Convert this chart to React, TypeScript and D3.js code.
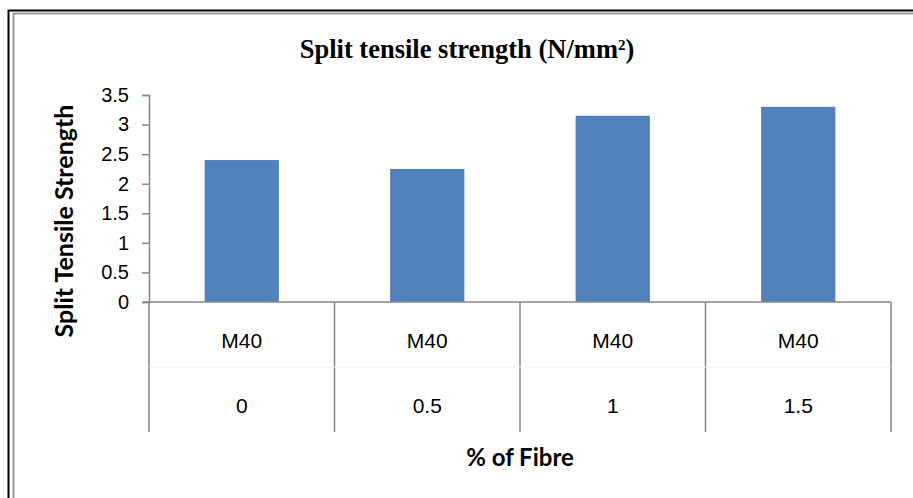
import React, { useRef, useEffect } from "react";
import * as d3 from "d3";

const fibrePercent = ["0", "0.5", "1", "1.5"];
const mixGrade = ["M40", "M40", "M40", "M40"];
const splitStrength = [2.4, 2.25, 3.15, 3.3];
const yTicks = [0, 0.5, 1, 1.5, 2, 2.5, 3, 3.5];

const App: React.FC = () => {
  const ref = useRef<SVGSVGElement | null>(null);

  useEffect(() => {
    const width = 913;
    const height = 498;
    const svg = d3.select(ref.current);
    svg.selectAll("*").remove();
    svg.attr("width", width).attr("height", height);

    // frame
    svg
      .append("path")
      .attr("d", `M8.5,${height} V10.5 H${width}`)
      .attr("fill", "none")
      .attr("stroke", "#000")
      .attr("stroke-width", 2);
    svg
      .append("path")
      .attr("d", `M13.5,${height} V13.5 H${width}`)
      .attr("fill", "none")
      .attr("stroke", "#9a9a9a")
      .attr("stroke-width", 2);

    const left = 149;
    const right = 891;
    const top = 95;
    const bottom = 302;

    const x = d3.scaleBand<number>().domain(d3.range(fibrePercent.length)).range([left, right]).paddingInner(0).paddingOuter(0);
    const y = d3.scaleLinear().domain([0, 3.5]).range([bottom, top]);

    // bars
    const barW = x.bandwidth() * 0.4;
    svg
      .append("g")
      .selectAll("rect")
      .data(splitStrength)
      .enter()
      .append("rect")
      .attr("x", (_, i) => (x(i) ?? 0) + (x.bandwidth() - barW) / 2)
      .attr("y", (d) => y(d))
      .attr("width", barW)
      .attr("height", (d) => bottom - y(d))
      .attr("fill", "#4f81bd");

    // y axis
    const yAxis = svg
      .append("g")
      .attr("transform", `translate(${left},0)`)
      .call(d3.axisLeft(y).tickValues(yTicks).tickSize(7).tickPadding(13).tickFormat((d) => String(d)) as any);
    yAxis.select(".domain").attr("stroke", "#868686").attr("stroke-width", 1.5);
    yAxis.selectAll(".tick line").attr("stroke", "#868686").attr("stroke-width", 1.5);
    yAxis
      .selectAll(".tick text")
      .attr("fill", "#000")
      .attr("font-family", "'Liberation Sans', Arial, sans-serif")
      .attr("font-size", 20);

    // x axis baseline + category dividers
    const lineColor = "#868686";
    svg
      .append("line")
      .attr("x1", left - 6)
      .attr("x2", right)
      .attr("y1", bottom)
      .attr("y2", bottom)
      .attr("stroke", lineColor)
      .attr("stroke-width", 1.5);
    const edges = [...d3.range(fibrePercent.length).map((i) => x(i) ?? 0), right];
    svg
      .append("g")
      .selectAll("line")
      .data(edges)
      .enter()
      .append("line")
      .attr("x1", (d) => d)
      .attr("x2", (d) => d)
      .attr("y1", bottom)
      .attr("y2", 432)
      .attr("stroke", lineColor)
      .attr("stroke-width", 1.5);
    svg
      .append("line")
      .attr("x1", left)
      .attr("x2", right)
      .attr("y1", 367)
      .attr("y2", 367)
      .attr("stroke", "#f0f0f0")
      .attr("stroke-width", 1);

    const catText = (labels: string[], yPos: number) =>
      svg
        .append("g")
        .selectAll("text")
        .data(labels)
        .enter()
        .append("text")
        .attr("x", (_, i) => (x(i) ?? 0) + x.bandwidth() / 2)
        .attr("y", yPos)
        .attr("text-anchor", "middle")
        .attr("font-family", "'Liberation Sans', Arial, sans-serif")
        .attr("font-size", 21)
        .attr("fill", "#000")
        .text((d) => d);
    catText(mixGrade, 348);
    catText(fibrePercent, 413);

    // title
    const title = svg
      .append("text")
      .attr("x", 467)
      .attr("y", 58)
      .attr("text-anchor", "middle")
      .attr("font-family", "'Liberation Serif', 'Times New Roman', serif")
      .attr("font-weight", "bold")
      .attr("font-size", 26.5)
      .attr("fill", "#000");
    title.append("tspan").text("Split tensile strength (N/mm");
    title.append("tspan").attr("dy", -8).attr("font-size", 15).text("2");
    title.append("tspan").attr("dy", 8).text(")");

    // axis titles
    svg
      .append("text")
      .attr("transform", "rotate(-90)")
      .attr("x", -221)
      .attr("y", 73)
      .attr("text-anchor", "middle")
      .attr("font-family", "Lato, 'Open Sans', sans-serif")
      .attr("font-weight", "bold")
      .attr("font-size", 25)
      .attr("fill", "#000")
      .text("Split Tensile Strength");
    svg
      .append("text")
      .attr("x", 520)
      .attr("y", 466)
      .attr("text-anchor", "middle")
      .attr("font-family", "Lato, 'Open Sans', sans-serif")
      .attr("font-weight", "bold")
      .attr("font-size", 24)
      .attr("fill", "#000")
      .text("% of Fibre");
  }, []);

  return (
    <div style={{ position: "absolute", left: 0, top: 0 }}>
      <svg ref={ref} style={{ display: "block", background: "#fff" }} />
    </div>
  );
};

export default App;
